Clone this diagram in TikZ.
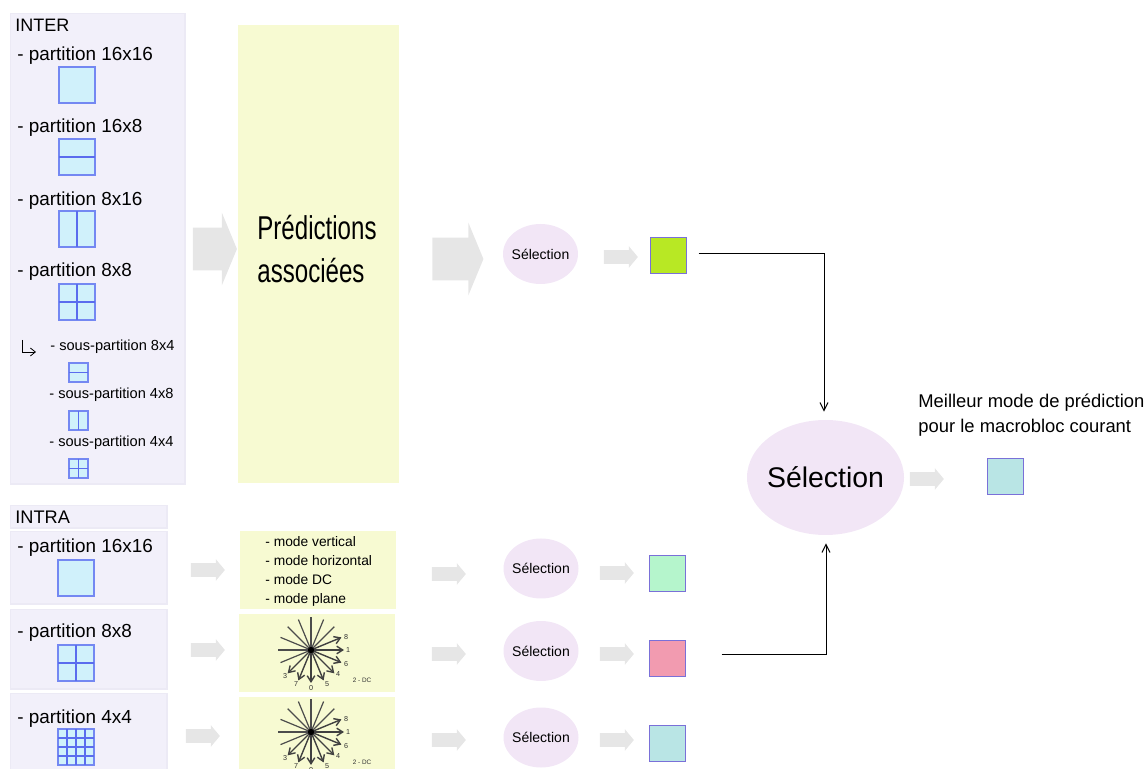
\documentclass[tikz,border=0pt]{standalone}
\usepackage{fontspec}
\usepackage{graphicx}
\setmainfont{Liberation Sans}
\usetikzlibrary{shapes.geometric,shapes.arrows,arrows.meta,calc}
\definecolor{panelfill}{HTML}{F2F0FA}
\definecolor{panelline}{HTML}{ECEAF5}
\definecolor{predfill}{HTML}{F7FAD2}
\definecolor{selfill}{HTML}{F2E6F6}
\definecolor{arrowfill}{HTML}{E6E6E6}
\definecolor{partfill}{HTML}{D0F1FB}
\definecolor{partline}{HTML}{7488F2}
\definecolor{partinner}{HTML}{5A6CEE}
\definecolor{resline}{HTML}{7A70D8}
\definecolor{limefill}{HTML}{B8E824}
\definecolor{greenfill}{HTML}{B5F5CC}
\definecolor{rosefill}{HTML}{F29BB0}
\definecolor{tealfill}{HTML}{B9E5E5}
\tikzset{
    panel/.style={draw=panelline,fill=panelfill,line width=.6pt},
    predbox/.style={fill=predfill},
    selnode/.style={ellipse,fill=selfill,inner sep=0pt,minimum width=37.5pt,minimum height=30pt,
        label={[font=\fontsize{7}{8}\selectfont]center:Sélection}},
    partbox/.style={draw=partline,fill=partfill,line width=.55pt,inner sep=0pt,outer sep=0pt,minimum size=18pt},
    subbox/.style={partbox,minimum size=9.5pt},
    partsep/.style={draw=partinner,line width=.6pt},
    resbox/.style={draw=resline,line width=.5pt,inner sep=0pt,minimum size=18pt},
    smallarrow/.style={single arrow,fill=arrowfill,inner sep=0pt,text height=6.5pt,text depth=0pt,
        single arrow head extend=2pt,single arrow tip angle=100,minimum height=17pt},
    bigarrow/.style={single arrow,fill=arrowfill,inner sep=0pt,text height=21pt,text depth=0pt,
        single arrow head extend=7.5pt,single arrow tip angle=135,minimum height=#1},
    bigtext/.style={anchor=base west,inner sep=0pt,font=\fontsize{9.45}{11}\selectfont},
    subtext/.style={anchor=base west,inner sep=0pt,font=\fontsize{7.3}{9}\selectfont},
    modetext/.style={anchor=base west,inner sep=0pt,font=\fontsize{6.9}{8}\selectfont},
    link/.style={-{Straight Barb[length=4pt,width=4pt]},line width=.5pt},
    predstar/.pic={
        \foreach \ang in {45,67.5,90,112.5,135,157.5,180,202.5}
            \draw[black!70,line width=.6pt] (0,0) -- (\ang:16.5pt);
        \foreach \ang in {22.5,0,-22.5,-45,-67.5,-90,-112.5,-135}
            \draw[black!75,line width=.7pt,-{Straight Barb[length=3pt,width=3.8pt]}] (0,0) -- (\ang:16.5pt);
        \fill[black] (0,0) circle (1.6pt);
        \foreach \lab/\dx/\dy in {8/35/-13,1/37/0,6/35/14,4/27/24,5/16/34,0/0/38,7/-15/34,3/-26/26}
            \node[inner sep=0pt,font=\fontsize{3.6}{4}\selectfont,black!80] (-m\lab) at (\dx,\dy) {\lab};
        \node[inner sep=0pt,font=\fontsize{3.2}{4}\selectfont,black!80] (-dc) at (51,30) {2 - DC};
    }
}
\begin{document}
\begin{tikzpicture}[x=.5pt,y=-.5pt]
    \useasboundingbox (0,0) rectangle (1146,769);
    % left panels
    \draw[panel] (10.5,13.5) rectangle (185,484);
    \draw[panel] (10.5,505.5) rectangle (167,528);
    \draw[panel] (10.5,531.5) rectangle (167,604);
    \draw[panel] (10.5,609.5) rectangle (167,689);
    \draw[panel] (10.5,693.5) rectangle (167,772);
    % yellow boxes
    \fill[predbox] (238,25) rectangle (399,483);
    \fill[predbox] (240,531) rectangle (396,609);
    \fill[predbox] (239,614) rectangle (395,692);
    \fill[predbox] (239,697) rectangle (395,769);
    % panel texts
    \node[bigtext,font=\fontsize{9}{11}\selectfont] (intertitle) at (15,32) {INTER};
    \node[bigtext,font=\fontsize{9.1}{11}\selectfont] (intratitle) at (15,524) {INTRA};
    \node[bigtext] (ta) at (17,61) {- partition 16x16};
    \node[bigtext] (tb) at (17,133) {- partition 16x8};
    \node[bigtext] (tc) at (17,206) {- partition 8x16};
    \node[bigtext] (td) at (17,277) {- partition 8x8};
    \node[subtext] (se) at (50,351) {- sous-partition 8x4};
    \node[subtext] (sf) at (49,399) {- sous-partition 4x8};
    \node[subtext] (sg) at (49,447) {- sous-partition 4x4};
    \node[bigtext] (ti) at (17,553) {- partition 16x16};
    \node[bigtext] (tj) at (17,638) {- partition 8x8};
    \node[bigtext] (tk) at (17,723) {- partition 4x4};
    % partition squares
    \node[partbox] (pa) at (77,85) {};
    \node[partbox] (pb) at (77,157) {};
    \node[partbox] (pc) at (77,229) {};
    \node[partbox] (pd) at (77,302) {};
    \node[subbox] (pe) at (78.5,372.5) {};
    \node[subbox] (pf) at (78.5,420.5) {};
    \node[subbox] (pg) at (78.5,468.5) {};
    \node[partbox] (pi) at (76,578) {};
    \node[partbox] (pj) at (76,663) {};
    \node[partbox] (pk) at (76,747) {};
    \foreach \p in {pb,pd,pe,pg,pj} \draw[partsep] (\p.west) -- (\p.east);
    \foreach \p in {pc,pd,pf,pg,pj} \draw[partsep] (\p.north) -- (\p.south);
    \foreach \f in {.25,.5,.75} {
        \draw[partsep] ($(pk.north west)!\f!(pk.south west)$) -- ($(pk.north east)!\f!(pk.south east)$);
        \draw[partsep] ($(pk.north west)!\f!(pk.north east)$) -- ($(pk.south west)!\f!(pk.south east)$);
    }
    \coordinate (turna) at (22,340);
    \coordinate (turnb) at (36,352);
    \draw[line width=.4pt,-{Straight Barb[length=2.5pt,width=4pt]}] (turna) |- (turnb);
    % predictions
    \node[anchor=base west,inner sep=0pt,font=\fontsize{16.5}{18}\selectfont] (preda) at (257,240) {\scalebox{.73}[1]{Prédictions}};
    \node[anchor=base west,inner sep=0pt,font=\fontsize{16.5}{18}\selectfont] (predb) at (257,283) {\scalebox{.73}[1]{associées}};
    \node[modetext] (ma) at (265,547) {- mode vertical};
    \node[modetext] (mb) at (265,566) {- mode horizontal};
    \node[modetext] (mc) at (265,585) {- mode DC};
    \node[modetext] (md) at (265,604) {- mode plane};
    \pic (stara) at (311,650) {predstar};
    \pic (starb) at (311,732) {predstar};
    % block arrows
    \node[bigarrow=22pt] (ba) at (210.5,249) {};
    \node[bigarrow=25.5pt] (bb) at (453.5,259) {};
    \node[smallarrow] (aa) at (618,257) {};
    \node[smallarrow] (ab) at (205,570) {};
    \node[smallarrow] (ac) at (446,574) {};
    \node[smallarrow] (ad) at (614,573) {};
    \node[smallarrow] (ae) at (205,650) {};
    \node[smallarrow] (af) at (446,654) {};
    \node[smallarrow] (ag) at (614,654) {};
    \node[smallarrow] (ah) at (200,736) {};
    \node[smallarrow] (ai) at (446,740) {};
    \node[smallarrow] (aj) at (614,740) {};
    \node[smallarrow] (ak) at (924,479) {};
    % selections
    \node[selnode] (sela) at (540.5,254) {};
    \node[selnode] (selb) at (541,568.5) {};
    \node[selnode] (selc) at (541,651) {};
    \node[selnode] (seld) at (541,737.5) {};
    \node[ellipse,fill=selfill,inner sep=0pt,minimum width=78.5pt,minimum height=57.5pt,
        label={[font=\fontsize{14.2}{16}\selectfont]center:Sélection}] (best) at (825.5,477.5) {};
    % results
    \node[resbox,fill=limefill] (qa) at (668,256) {};
    \node[resbox,fill=greenfill] (qb) at (667,574) {};
    \node[resbox,fill=rosefill] (qc) at (667,659) {};
    \node[resbox,fill=tealfill] (qd) at (667,743) {};
    \node[resbox,fill=tealfill] (qe) at (1005,477) {};
    \draw[link,shorten <=6pt,shorten >=4pt] ([yshift=1pt]qa.east) -| ([xshift=-.75pt]best.north);
    \draw[link,shorten <=18pt,shorten >=4pt] ([yshift=2pt]qc.east) -| ([xshift=.25pt]best.south);
    \node[anchor=base west,inner sep=0pt,font=\fontsize{9.2}{11}\selectfont] (besta) at (918,408) {Meilleur mode de prédiction};
    \node[anchor=base west,inner sep=0pt,font=\fontsize{9.2}{11}\selectfont] (bestb) at (918,433) {pour le macrobloc courant};
\end{tikzpicture}
\end{document}
